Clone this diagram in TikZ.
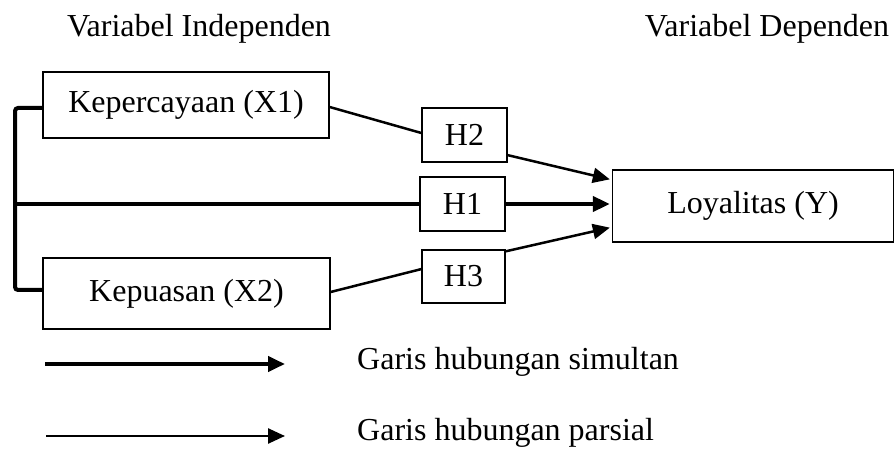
\documentclass[tikz,border=0pt]{standalone}
\usepackage{fontspec}
\setmainfont{Liberation Serif}
\usetikzlibrary{arrows.meta,calc}
\begin{document}
\begin{tikzpicture}[x=1pt,y=-1pt,
  box/.style={draw,line width=1.3pt,inner sep=0pt,font=\fontsize{32}{38}\selectfont},
  lbl/.style={inner sep=0pt,font=\fontsize{32}{38}\selectfont},
  thin/.style={line width=2.5pt},
  thick/.style={line width=4pt},
  tip/.style={-{Triangle[length=17pt,width=15pt]}}]
\useasboundingbox (0,0) rectangle (895,454);
% headings
\node[lbl] (hi) at (199,29) {Variabel Independen};
\node[lbl] (hd) at (767,29) {Variabel Dependen};
% boxes
\node[box,minimum width=286,minimum height=66] (x1) at (186,105) {Kepercayaan (X1)};
\node[box,minimum width=287,minimum height=71] (x2) at (186.5,293.5) {Kepuasan (X2)};
\node[box,minimum width=85,minimum height=54] (h2) at (464.5,135) {H2};
\node[box,minimum width=85,minimum height=54] (h1) at (462.5,204) {H1};
\node[box,minimum width=83,minimum height=53] (h3) at (463.5,276.5) {H3};
\node[box,minimum width=281,minimum height=72] (y) at (753,206) {Loyalitas (Y)};
% bracket
\coordinate (bt) at (15,108);
\coordinate (bb) at (15,290);
\coordinate (bm) at (15,204);
\draw[thick,rounded corners=3pt] ($(x1.west)+(0,3)$) -- (bt) -- (bb) -- ($(x2.west)+(0,-3.5)$);
% connectors
\draw[thick] (bm) -- (h1.west);
\draw[thick,tip] (h1.east) -- ($(y.west)+(-2,-2)$);
\draw[thin] ($(x1.east)+(0,2)$) -- ($(h2.west)+(0,-2)$);
\draw[thin,tip] (h2.-25) -- ($(y.north west)+(-2,10)$);
\draw[thin] ($(x2.east)+(0,-1.5)$) -- (h3.170);
\draw[thin,tip] ($(h3.north east)+(0,2)$) -- ($(y.south west)+(-2,-15)$);
% legend
\coordinate (la) at (45,364);
\coordinate (lb) at (285,364);
\coordinate (lc) at (46,436);
\coordinate (ld) at (285,436);
\draw[thick,tip] (la) -- (lb);
\draw[thin,tip] (lc) -- (ld);
\node[lbl,anchor=west] (t1) at (357,362) {Garis hubungan simultan};
\node[lbl,anchor=west] (t2) at (357,433) {Garis hubungan parsial};
\end{tikzpicture}
\end{document}
